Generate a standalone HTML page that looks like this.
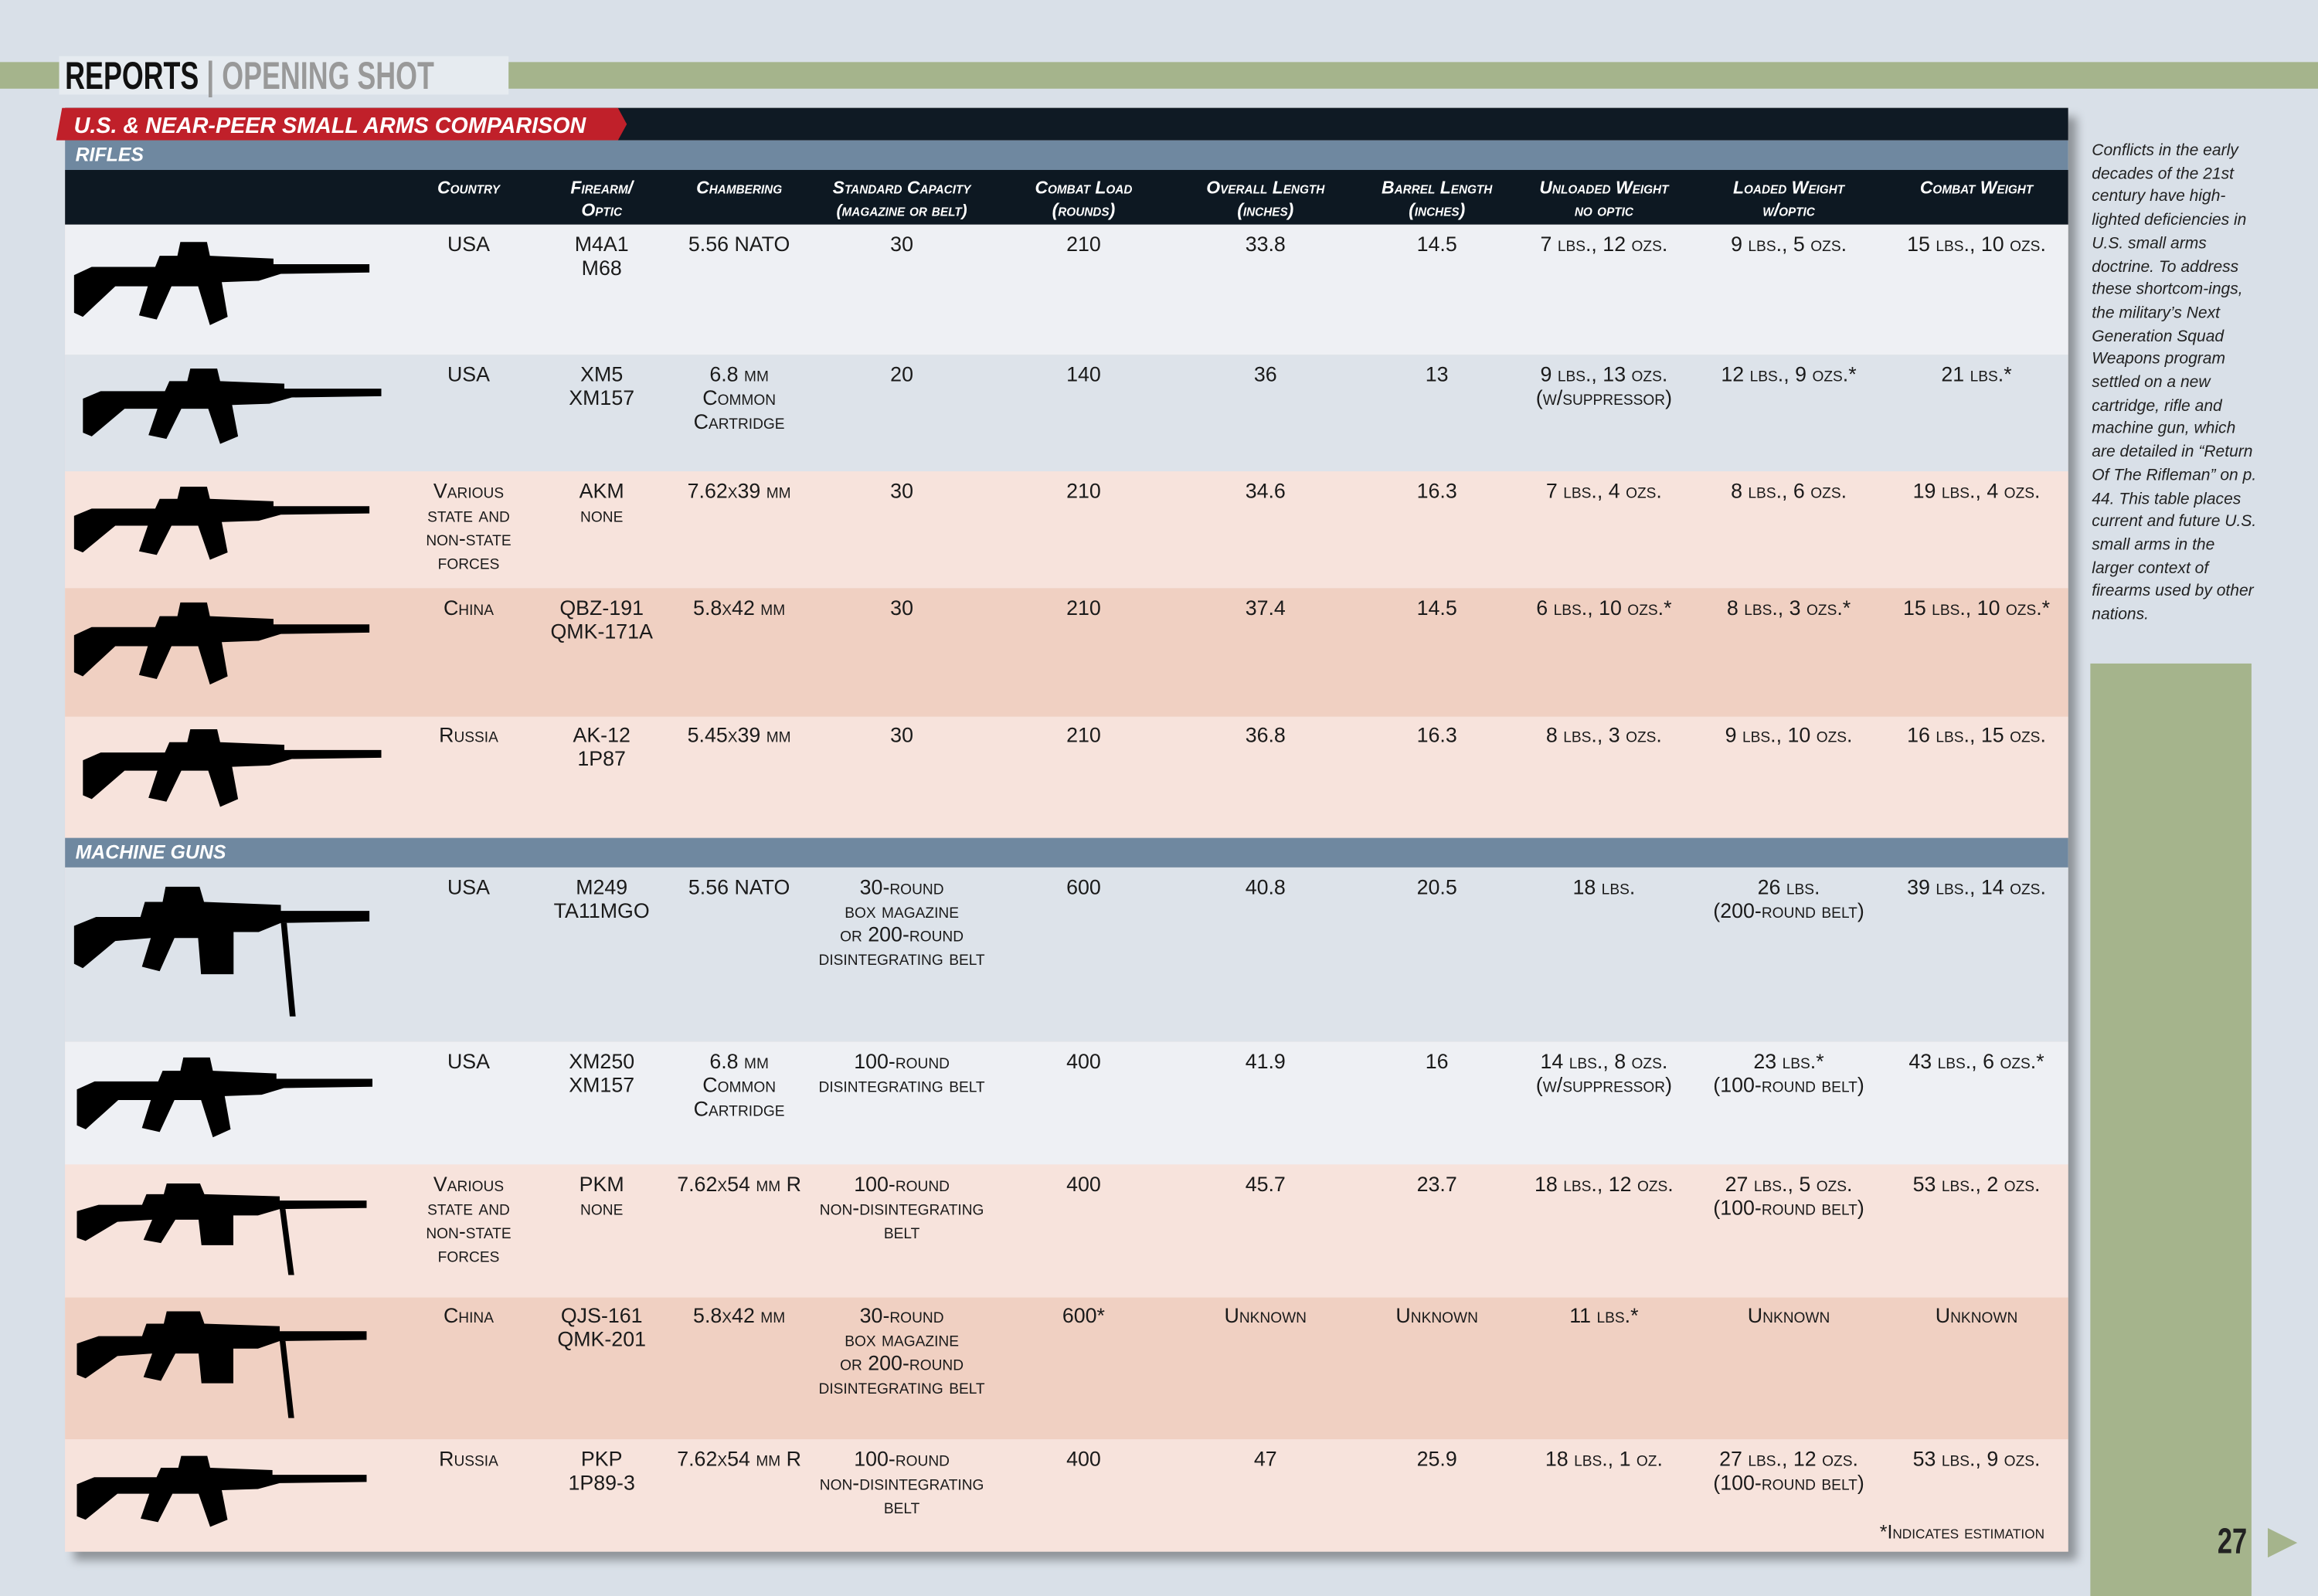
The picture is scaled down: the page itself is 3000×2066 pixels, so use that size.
<!DOCTYPE html>
<html><head><meta charset="utf-8">
<style>
html,body{margin:0;padding:0;}
body{width:3000px;height:2066px;overflow:hidden;background:#d9e0e8;font-family:"Liberation Sans",sans-serif;}
#w{position:absolute;left:0;top:0;width:1568px;height:1080px;transform:scale(1.91327,1.91296);transform-origin:0 0;}
.a{position:absolute;}
.c{position:absolute;text-align:center;font-size:14px;line-height:16px;color:#1a1a1a;font-variant:small-caps;}
.h{position:absolute;text-align:center;font-size:12px;line-height:15px;color:#fff;font-style:italic;font-weight:bold;font-variant:small-caps;}
.row{position:absolute;left:44px;width:1355px;}
.sec{position:absolute;left:44px;width:1355px;height:20px;background:#6f88a0;color:#fff;font-weight:bold;font-style:italic;font-size:13px;line-height:20px;padding-left:7px;box-sizing:border-box;}
svg.g{position:absolute;}
</style></head><body><div id="w">
<div class="a" style="left:0;top:42px;width:1568px;height:18px;background:#a5b48c"></div>
<div class="a" style="left:40px;top:38px;width:304px;height:26px;background:#e6ebf0"></div>
<div class="a" style="left:44px;top:36px;font-size:26px;line-height:30px;font-weight:bold;transform:scaleX(0.72);transform-origin:0 0;white-space:nowrap"><span style="color:#111">REPORTS</span> <span style="color:#999">| OPENING SHOT</span></div>

<div class="a" style="box-shadow:6px 6px 6px rgba(0,0,0,0.35);background:#f7e3dc;left:44px;top:73px;width:1355px;height:977px"></div>
<div class="a" style="left:44px;top:73px;width:1355px;height:22px;background:#0f1a24"></div>
<svg class="a" style="left:38px;top:73px" width="390" height="22"><polygon points="4,0 380,0 386,11 380,22 0,22" fill="#c0202a"/><text x="12" y="17" fill="#fff" font-family="Liberation Sans" font-weight="bold" font-style="italic" font-size="15">U.S. &amp; NEAR-PEER SMALL ARMS COMPARISON</text></svg>
<div class="sec" style="top:95px">RIFLES</div>
<div class="row" style="top:115px;height:37px;background:#0d1822"></div>

<div class="row" style="top:152px;height:88px;background:#eef0f4"></div>
<div class="row" style="top:240px;height:79px;background:#dde3ea"></div>
<div class="row" style="top:319px;height:79px;background:#f7e3dc"></div>
<div class="row" style="top:398px;height:87px;background:#f0d0c2"></div>
<div class="row" style="top:485px;height:82px;background:#f7e3dc"></div>
<div class="sec" style="top:567px">MACHINE GUNS</div>
<div class="row" style="top:587px;height:118px;background:#dde3ea"></div>
<div class="row" style="top:705px;height:83px;background:#eef0f4"></div>
<div class="row" style="top:788px;height:90px;background:#f7e3dc"></div>
<div class="row" style="top:878px;height:96px;background:#f0d0c2"></div>
<div class="row" style="top:974px;height:76px;background:#f7e3dc"></div>

<svg width="0" height="0" style="position:absolute"><defs>
<symbol id="r" viewBox="0 0 200 80" preserveAspectRatio="none"><path d="M0,28 L12,22 L55,22 L58,14 L70,14 L72,4 L90,4 L92,14 L135,16 L135,20 L200,20 L200,26 L140,27 L125,32 L100,33 L104,58 L92,64 L84,36 L66,36 L56,60 L44,57 L50,36 L28,36 L6,58 L0,55 Z" fill="#000"/></symbol>
<symbol id="m" viewBox="0 0 200 100" preserveAspectRatio="none"><path d="M0,30 L15,24 L45,24 L48,14 L60,14 L62,4 L85,4 L88,14 L140,16 L140,20 L200,20 L200,27 L140,28 L125,34 L108,34 L108,62 L86,62 L84,38 L68,38 L58,60 L46,57 L52,38 L28,40 L6,58 L0,55 Z M140,28 L144,28 L150,90 L146,90 Z" fill="#000"/></symbol>
</defs></svg>
<svg class="g" style="left:50px;top:160px" width="200" height="75"><use href="#r" width="200" height="75"/></svg>
<svg class="g" style="left:56px;top:246px" width="202" height="68"><use href="#r" width="202" height="68"/></svg>
<svg class="g" style="left:50px;top:326px" width="200" height="66"><use href="#r" width="200" height="66"/></svg>
<svg class="g" style="left:50px;top:404px" width="200" height="74"><use href="#r" width="200" height="74"/></svg>
<svg class="g" style="left:56px;top:490px" width="202" height="70"><use href="#r" width="202" height="70"/></svg>
<svg class="g" style="left:50px;top:596px" width="200" height="102"><use href="#m" width="200" height="102"/></svg>
<svg class="g" style="left:52px;top:712px" width="200" height="72"><use href="#r" width="200" height="72"/></svg>
<svg class="g" style="left:52px;top:798px" width="196" height="72"><use href="#m" width="196" height="72"/></svg>
<svg class="g" style="left:52px;top:884px" width="196" height="84"><use href="#m" width="196" height="84"/></svg>
<svg class="g" style="left:52px;top:982px" width="196" height="64"><use href="#r" width="196" height="64"/></svg>

<div class="h" style="left:267px;top:120px;width:100px">Country</div>
<div class="h" style="left:357px;top:120px;width:100px">Firearm/<br>Optic</div>
<div class="h" style="left:450px;top:120px;width:100px">Chambering</div>
<div class="h" style="left:540px;top:120px;width:140px">Standard Capacity<br><span style="font-size:11px">(magazine or belt)</span></div>
<div class="h" style="left:673px;top:120px;width:120px">Combat Load<br>(rounds)</div>
<div class="h" style="left:796px;top:120px;width:120px">Overall Length<br>(inches)</div>
<div class="h" style="left:912px;top:120px;width:120px">Barrel Length<br>(inches)</div>
<div class="h" style="left:1020px;top:120px;width:130px">Unloaded Weight<br>no optic</div>
<div class="h" style="left:1150px;top:120px;width:120px">Loaded Weight<br>w/optic</div>
<div class="h" style="left:1277px;top:120px;width:120px">Combat Weight</div>

<div class="c" style="left:257px;top:157px;width:120px">USA</div>
<div class="c" style="left:347px;top:157px;width:120px">M4A1<br>M68</div>
<div class="c" style="left:440px;top:157px;width:120px">5.56 NATO</div>
<div class="c" style="left:540px;top:157px;width:140px">30</div>
<div class="c" style="left:673px;top:157px;width:120px">210</div>
<div class="c" style="left:796px;top:157px;width:120px">33.8</div>
<div class="c" style="left:912px;top:157px;width:120px">14.5</div>
<div class="c" style="left:1015px;top:157px;width:140px">7 lbs., 12 ozs.</div>
<div class="c" style="left:1140px;top:157px;width:140px">9 lbs., 5 ozs.</div>
<div class="c" style="left:1267px;top:157px;width:140px">15 lbs., 10 ozs.</div>

<div class="c" style="left:257px;top:245px;width:120px">USA</div>
<div class="c" style="left:347px;top:245px;width:120px">XM5<br>XM157</div>
<div class="c" style="left:440px;top:245px;width:120px">6.8 mm<br>Common<br>Cartridge</div>
<div class="c" style="left:540px;top:245px;width:140px">20</div>
<div class="c" style="left:673px;top:245px;width:120px">140</div>
<div class="c" style="left:796px;top:245px;width:120px">36</div>
<div class="c" style="left:912px;top:245px;width:120px">13</div>
<div class="c" style="left:1015px;top:245px;width:140px">9 lbs., 13 ozs.<br>(w/suppressor)</div>
<div class="c" style="left:1140px;top:245px;width:140px">12 lbs., 9 ozs.*</div>
<div class="c" style="left:1267px;top:245px;width:140px">21 lbs.*</div>

<div class="c" style="left:257px;top:324px;width:120px">Various<br>state and<br>non-state<br>forces</div>
<div class="c" style="left:347px;top:324px;width:120px">AKM<br>none</div>
<div class="c" style="left:440px;top:324px;width:120px">7.62x39 mm</div>
<div class="c" style="left:540px;top:324px;width:140px">30</div>
<div class="c" style="left:673px;top:324px;width:120px">210</div>
<div class="c" style="left:796px;top:324px;width:120px">34.6</div>
<div class="c" style="left:912px;top:324px;width:120px">16.3</div>
<div class="c" style="left:1015px;top:324px;width:140px">7 lbs., 4 ozs.</div>
<div class="c" style="left:1140px;top:324px;width:140px">8 lbs., 6 ozs.</div>
<div class="c" style="left:1267px;top:324px;width:140px">19 lbs., 4 ozs.</div>

<div class="c" style="left:257px;top:403px;width:120px">China</div>
<div class="c" style="left:347px;top:403px;width:120px">QBZ-191<br>QMK-171A</div>
<div class="c" style="left:440px;top:403px;width:120px">5.8x42 mm</div>
<div class="c" style="left:540px;top:403px;width:140px">30</div>
<div class="c" style="left:673px;top:403px;width:120px">210</div>
<div class="c" style="left:796px;top:403px;width:120px">37.4</div>
<div class="c" style="left:912px;top:403px;width:120px">14.5</div>
<div class="c" style="left:1015px;top:403px;width:140px">6 lbs., 10 ozs.*</div>
<div class="c" style="left:1140px;top:403px;width:140px">8 lbs., 3 ozs.*</div>
<div class="c" style="left:1267px;top:403px;width:140px">15 lbs., 10 ozs.*</div>

<div class="c" style="left:257px;top:489px;width:120px">Russia</div>
<div class="c" style="left:347px;top:489px;width:120px">AK-12<br>1P87</div>
<div class="c" style="left:440px;top:489px;width:120px">5.45x39 mm</div>
<div class="c" style="left:540px;top:489px;width:140px">30</div>
<div class="c" style="left:673px;top:489px;width:120px">210</div>
<div class="c" style="left:796px;top:489px;width:120px">36.8</div>
<div class="c" style="left:912px;top:489px;width:120px">16.3</div>
<div class="c" style="left:1015px;top:489px;width:140px">8 lbs., 3 ozs.</div>
<div class="c" style="left:1140px;top:489px;width:140px">9 lbs., 10 ozs.</div>
<div class="c" style="left:1267px;top:489px;width:140px">16 lbs., 15 ozs.</div>

<div class="c" style="left:257px;top:592px;width:120px">USA</div>
<div class="c" style="left:347px;top:592px;width:120px">M249<br>TA11MGO</div>
<div class="c" style="left:440px;top:592px;width:120px">5.56 NATO</div>
<div class="c" style="left:530px;top:592px;width:160px">30-round<br>box magazine<br>or 200-round<br>disintegrating belt</div>
<div class="c" style="left:673px;top:592px;width:120px">600</div>
<div class="c" style="left:796px;top:592px;width:120px">40.8</div>
<div class="c" style="left:912px;top:592px;width:120px">20.5</div>
<div class="c" style="left:1015px;top:592px;width:140px">18 lbs.</div>
<div class="c" style="left:1140px;top:592px;width:140px">26 lbs.<br>(200-round belt)</div>
<div class="c" style="left:1267px;top:592px;width:140px">39 lbs., 14 ozs.</div>

<div class="c" style="left:257px;top:710px;width:120px">USA</div>
<div class="c" style="left:347px;top:710px;width:120px">XM250<br>XM157</div>
<div class="c" style="left:440px;top:710px;width:120px">6.8 mm<br>Common<br>Cartridge</div>
<div class="c" style="left:530px;top:710px;width:160px">100-round<br>disintegrating belt</div>
<div class="c" style="left:673px;top:710px;width:120px">400</div>
<div class="c" style="left:796px;top:710px;width:120px">41.9</div>
<div class="c" style="left:912px;top:710px;width:120px">16</div>
<div class="c" style="left:1015px;top:710px;width:140px">14 lbs., 8 ozs.<br>(w/suppressor)</div>
<div class="c" style="left:1140px;top:710px;width:140px">23 lbs.*<br>(100-round belt)</div>
<div class="c" style="left:1267px;top:710px;width:140px">43 lbs., 6 ozs.*</div>

<div class="c" style="left:257px;top:793px;width:120px">Various<br>state and<br>non-state<br>forces</div>
<div class="c" style="left:347px;top:793px;width:120px">PKM<br>none</div>
<div class="c" style="left:440px;top:793px;width:120px">7.62x54 mm R</div>
<div class="c" style="left:530px;top:793px;width:160px">100-round<br>non-disintegrating<br>belt</div>
<div class="c" style="left:673px;top:793px;width:120px">400</div>
<div class="c" style="left:796px;top:793px;width:120px">45.7</div>
<div class="c" style="left:912px;top:793px;width:120px">23.7</div>
<div class="c" style="left:1015px;top:793px;width:140px">18 lbs., 12 ozs.</div>
<div class="c" style="left:1140px;top:793px;width:140px">27 lbs., 5 ozs.<br>(100-round belt)</div>
<div class="c" style="left:1267px;top:793px;width:140px">53 lbs., 2 ozs.</div>

<div class="c" style="left:257px;top:882px;width:120px">China</div>
<div class="c" style="left:347px;top:882px;width:120px">QJS-161<br>QMK-201</div>
<div class="c" style="left:440px;top:882px;width:120px">5.8x42 mm</div>
<div class="c" style="left:530px;top:882px;width:160px">30-round<br>box magazine<br>or 200-round<br>disintegrating belt</div>
<div class="c" style="left:673px;top:882px;width:120px">600*</div>
<div class="c" style="left:796px;top:882px;width:120px">Unknown</div>
<div class="c" style="left:912px;top:882px;width:120px">Unknown</div>
<div class="c" style="left:1015px;top:882px;width:140px">11 lbs.*</div>
<div class="c" style="left:1140px;top:882px;width:140px">Unknown</div>
<div class="c" style="left:1267px;top:882px;width:140px">Unknown</div>

<div class="c" style="left:257px;top:979px;width:120px">Russia</div>
<div class="c" style="left:347px;top:979px;width:120px">PKP<br>1P89-3</div>
<div class="c" style="left:440px;top:979px;width:120px">7.62x54 mm R</div>
<div class="c" style="left:530px;top:979px;width:160px">100-round<br>non-disintegrating<br>belt</div>
<div class="c" style="left:673px;top:979px;width:120px">400</div>
<div class="c" style="left:796px;top:979px;width:120px">47</div>
<div class="c" style="left:912px;top:979px;width:120px">25.9</div>
<div class="c" style="left:1015px;top:979px;width:140px">18 lbs., 1 oz.</div>
<div class="c" style="left:1140px;top:979px;width:140px">27 lbs., 12 ozs.<br>(100-round belt)</div>
<div class="c" style="left:1267px;top:979px;width:140px">53 lbs., 9 ozs.</div>
<div class="c" style="left:1200px;top:1029px;width:183px;text-align:right;font-size:13px">*Indicates estimation</div>

<div class="a" style="left:1415px;top:95px;width:112px;font-size:11px;line-height:15.7px;font-style:italic;color:#222">Conflicts in the early decades of the 21st century have high-lighted deficiencies in U.S. small arms doctrine. To address these shortcom-ings, the military’s Next Generation Squad Weapons program settled on a new cartridge, rifle and machine gun, which are detailed in “Return Of The Rifleman” on p. 44. This table places current and future U.S. small arms in the larger context of firearms used by other nations.</div>
<div class="a" style="left:1414px;top:449px;width:109px;height:631px;background:#a5b48c"></div>
<div class="a" style="left:1500px;top:1030px;font-size:24px;font-weight:bold;color:#222;transform:scaleX(0.75);transform-origin:0 0">27</div>
<svg class="a" style="left:1534px;top:1034px" width="22" height="20"><polygon points="0,0 20,10 0,20" fill="#a5b48c"/></svg>
</div></body></html>
